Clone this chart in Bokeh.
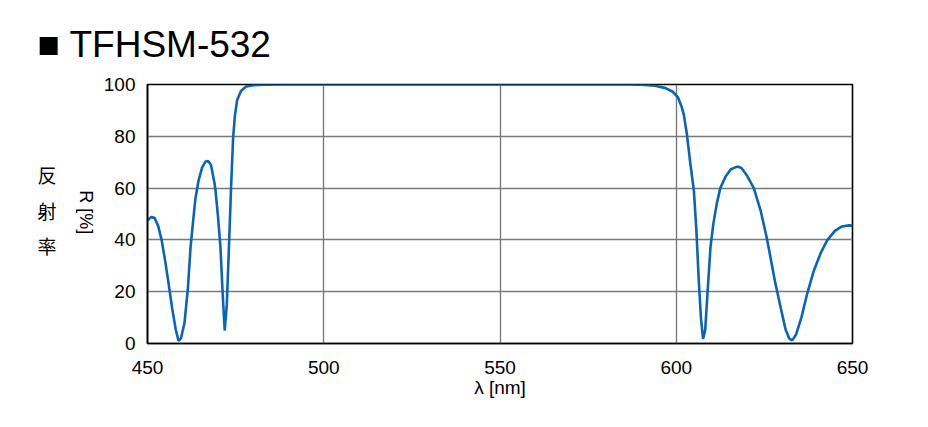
import math
from bokeh.plotting import figure
from bokeh.models import FixedTicker, Range1d, LinearAxis, Title
from bokeh.embed import file_html
from bokeh.resources import INLINE

title_text = "■ TFHSM-532"
x_label = "λ [nm]"
y_label = "R [%]"
y_label_jp = ["反", "射", "率"]
x_ticks = [450, 500, 550, 600, 650]
y_ticks = [0, 20, 40, 60, 80, 100]

wavelength = [
    450.0, 451.0, 452.0, 453.0, 454.0, 455.0, 456.0, 457.0, 458.0, 458.8,
    459.5, 460.5, 461.5, 462.2, 463.0, 463.6, 464.5, 465.5, 466.5, 467.2,
    468.0, 469.0, 469.3, 470.0, 470.7, 471.3, 471.9, 472.5, 473.1, 473.7,
    474.3, 474.8, 475.4, 476.5, 478.0, 480.0, 483.0, 490.0, 520.0, 560.0,
    585.0, 590.0, 594.0, 597.0, 599.0, 600.5, 601.5, 602.1, 603.0, 604.0,
    605.0, 605.7, 606.4, 607.0, 607.6, 608.2, 608.8, 609.7, 610.5, 611.5,
    612.5, 614.0, 615.5, 617.3, 618.5, 620.0, 622.0, 624.0, 625.8, 628.0,
    629.6, 631.0, 632.0, 632.9, 634.0, 635.5, 637.1, 639.0, 641.0, 642.8,
    645.0, 647.0, 649.0, 650.0,
]
reflectance = [
    47.5, 48.8, 48.5, 45.5, 40.0, 32.0, 23.0, 13.5, 5.5, 1.0,
    2.0, 8.0, 22.0, 37.0, 48.0, 56.0, 63.0, 68.0, 70.3, 70.4,
    69.0, 62.0, 59.0, 49.0, 37.0, 20.0, 5.0, 15.0, 37.0, 60.0,
    79.7, 88.0, 93.8, 97.5, 99.2, 99.7, 99.9, 100.0, 100.0, 100.0,
    100.0, 99.9, 99.5, 98.6, 97.2, 95.0, 91.5, 88.7, 81.0, 69.5,
    59.0, 44.0, 24.0, 10.0, 1.8, 5.0, 18.0, 37.0, 46.0, 54.0,
    60.0, 64.5, 67.3, 68.3, 67.8, 65.0, 60.0, 51.0, 40.0, 24.0,
    14.0, 5.5, 2.0, 1.2, 3.5, 10.0, 19.0, 28.0, 35.0, 39.8,
    43.5, 45.2, 45.6, 45.5,
]
jp_label_positions = [65.3, 51.4, 37.9]
r_label_position = [42.2]

FONT = "Liberation Sans"

p = figure(width=912, height=411, output_backend="svg", toolbar_location=None,
           x_range=Range1d(450, 650), y_range=Range1d(0, 100),
           min_border_left=147, min_border_right=60,
           min_border_top=84, min_border_bottom=68)

p.line(wavelength, reflectance, line_color="#0a64b8", line_width=2.6)

p.outline_line_color = "black"
p.outline_line_width = 1.6

for ax in (p.xaxis[0], p.yaxis[0]):
    ax.axis_line_color = "black"
    ax.axis_line_width = 1.6
    ax.major_tick_out = 0
    ax.major_tick_in = 0
    ax.minor_tick_out = 0
    ax.minor_tick_in = 0
    ax.major_label_text_font = FONT
    ax.major_label_text_font_size = "19px"
    ax.major_label_text_color = "black"
    ax.axis_label_text_font = FONT
    ax.axis_label_text_font_style = "normal"
    ax.axis_label_text_font_size = "19px"
    ax.axis_label_text_color = "black"

p.xaxis.ticker = FixedTicker(ticks=x_ticks)
p.yaxis.ticker = FixedTicker(ticks=y_ticks)
p.xaxis.major_label_standoff = 17
p.yaxis.major_label_standoff = 12
p.xaxis.axis_label = x_label
p.xaxis.axis_label_standoff = 0

r_axis = LinearAxis(ticker=FixedTicker(ticks=r_label_position),
                    major_label_overrides={r_label_position[0]: y_label},
                    major_label_orientation=-math.pi / 2,
                    axis_line_color=None, major_tick_line_color=None, minor_tick_line_color=None,
                    major_tick_out=0, major_tick_in=0, minor_tick_out=0, minor_tick_in=0,
                    major_label_text_font=FONT, major_label_text_font_size="18px",
                    major_label_text_color="black", major_label_standoff=15)
p.add_layout(r_axis, "left")

jp_axis = LinearAxis(ticker=FixedTicker(ticks=jp_label_positions),
                     major_label_overrides={v: t for v, t in zip(jp_label_positions, y_label_jp)},
                     axis_line_color=None, major_tick_line_color=None, minor_tick_line_color=None,
                     major_tick_out=0, major_tick_in=0, minor_tick_out=0, minor_tick_in=0,
                     major_label_text_font="Noto Sans CJK JP", major_label_text_font_size="19px",
                     major_label_text_color="black", major_label_standoff=6)
p.add_layout(jp_axis, "left")

p.xgrid.ticker = FixedTicker(ticks=x_ticks)
p.ygrid.ticker = FixedTicker(ticks=y_ticks)
for g in (p.xgrid[0], p.ygrid[0]):
    g.grid_line_color = "#7a7a7a"
    g.grid_line_width = 1.4

p.title = Title(text=title_text, align="left", offset=-110, standoff=40,
                text_font=FONT, text_font_size="37px", text_font_style="normal",
                text_color="black")

open("out.html", "w").write(file_html(p, INLINE))
